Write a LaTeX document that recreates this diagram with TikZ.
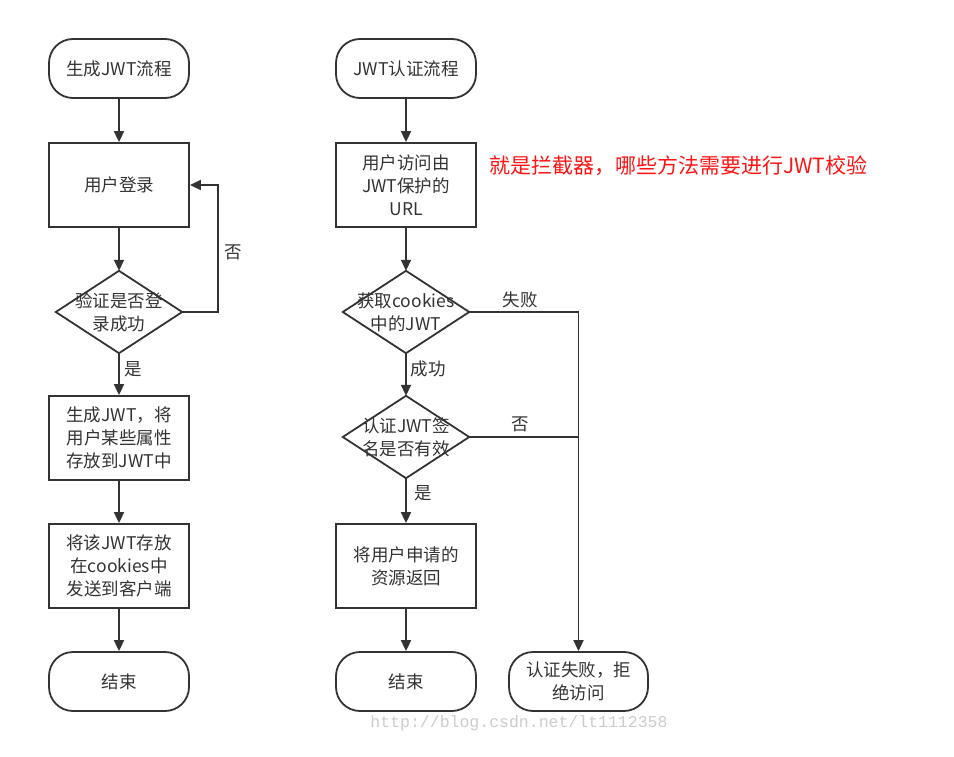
\documentclass[tikz,border=0pt]{standalone}
\usepackage{fontspec}
\setmainfont{Noto Sans CJK SC}
\newfontfamily\wmfont{Liberation Mono}
\usetikzlibrary{arrows.meta}
\definecolor{ink}{HTML}{333333}
\tikzset{
  base/.style={draw=ink, line width=1.8pt, text=ink, font=\fontsize{17.5}{23}\selectfont, align=center, inner sep=0pt},
  term/.style={base, rectangle, rounded corners=24pt, minimum width=140pt, minimum height=59pt},
  proc/.style={base, rectangle, minimum width=140pt, minimum height=84pt},
  dec/.style={rectangle, text=ink, font=\fontsize{17.5}{23}\selectfont, align=center, inner sep=0pt, minimum width=126pt, minimum height=82pt},
  arr/.style={draw=ink, line width=1.8pt, -{Triangle[length=11pt,width=10pt]}},
  ln/.style={draw=ink, line width=1.8pt},
  lab/.style={text=ink, font=\fontsize{17.5}{20}\selectfont, inner sep=0pt}
}
\begin{document}
\begin{tikzpicture}[x=1pt,y=-1pt]
\useasboundingbox[fill=white] (0,0) rectangle (954,757);
% left column
\node[term] (s1) at (119,68.5) {生成JWT流程};
\node[proc] (a1) at (119,185) {用户登录};
\node[dec] (d1) at (119,312) {验证是否登\\录成功};
\node[proc] (a2) at (119,438) {生成JWT，将\\用户某些属性\\存放到JWT中};
\node[proc] (a3) at (119,566) {将该JWT存放\\在cookies中\\发送到客户端};
\node[term] (e1) at (119,681.5) {结束};
% middle column
\node[term] (s2) at (406,68.5) {JWT认证流程};
\node[proc] (b1) at (406,185) {用户访问由\\JWT保护的\\URL};
\node[dec] (d2) at (406,312) {获取cookies\\中的JWT};
\node[dec] (d3) at (406,437) {认证JWT签\\名是否有效};
\node[proc] (b2) at (406,566) {将用户申请的\\资源返回};
\node[term] (e2) at (406,681.5) {结束};
\node[term, minimum width=139pt] (f) at (578.5,681.5) {认证失败，拒\\绝访问};
% diamonds
\foreach \d in {d1,d2,d3}{
  \draw[ln, line join=miter] (\d.north) -- (\d.east) -- (\d.south) -- (\d.west) -- cycle;
}
% connectors
\draw[arr] (s1) -- (a1);
\draw[arr] (a1) -- (d1.north);
\draw[arr] (d1.south) -- (a2);
\draw[arr] (a2) -- (a3);
\draw[arr] (a3) -- (e1);
\draw[arr] (d1.east) -- ++(36,0) |- (a1.east);
\draw[arr] (s2) -- (b1);
\draw[arr] (b1) -- (d2.north);
\draw[arr] (d2.south) -- (d3.north);
\draw[arr] (d3.south) -- (b2);
\draw[arr] (b2) -- (e2);
\draw[arr] (d2.east) -| (f.north);
\draw[ln] (d3.east) -- (d3.east -| f.north);
% labels
\node[lab] (l1) at (233,252) {否};
\node[lab] (l2) at (133,369) {是};
\node[lab] (l3) at (520,300) {失败};
\node[lab] (l4) at (428,369) {成功};
\node[lab] (l5) at (520,424) {否};
\node[lab] (l6) at (423,493) {是};
\node[anchor=west, text={rgb,255:red,255;green,20;blue,20}, font=\fontsize{21}{24}\selectfont, inner sep=0pt] (note) at (489,166) {就是拦截器，哪些方法需要进行JWT校验};
\node[text=black!20, font=\wmfont\fontsize{16.5}{18}\selectfont, inner sep=0pt] (wm) at (519,723) {http://blog.csdn.net/lt1112358};
\end{tikzpicture}
\end{document}
